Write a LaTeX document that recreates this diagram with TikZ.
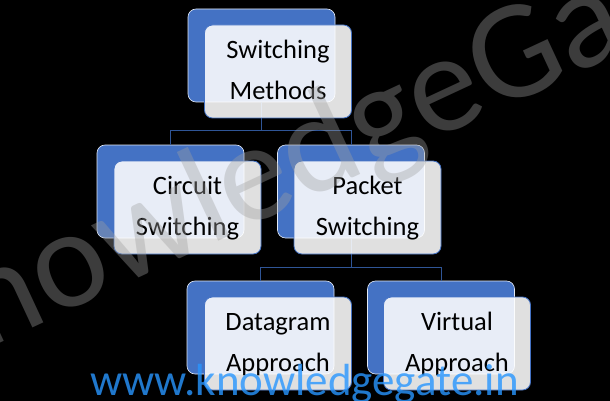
\documentclass[tikz,border=0pt]{standalone}
\usepackage{fontspec}
\setmainfont{Carlito}
\usetikzlibrary{calc}
\definecolor{bblue}{RGB}{68,114,196}
\definecolor{lnblue}{RGB}{47,85,151}
\definecolor{webblue}{RGB}{40,150,255}
\definecolor{wmgray}{RGB}{160,160,160}
\newcommand{\mystr}{\rule[-10pt]{0pt}{35pt}}
\begin{document}
\begin{tikzpicture}[x=1pt,y=-1pt,
  backbox/.style={draw=white!85!bblue, line width=0.6pt, fill=bblue, rounded corners=8pt,
    minimum width=147pt, minimum height=93pt, inner sep=0pt},
  frontbox/.style={draw=bblue, line width=0.8pt, fill=white, fill opacity=0.88, text opacity=1,
    rounded corners=8pt, minimum width=147pt, minimum height=93pt, inner sep=0pt,
    align=center, text=black, font=\fontsize{26.5}{41.5}\selectfont},
  conn/.style={draw=lnblue, line width=0.9pt},
  wmark/.style={text=wmgray, text opacity=0.375, font=\fontsize{141}{141}\selectfont, inner sep=0pt},
  web/.style={text=webblue, text opacity=0.8, font=\fontsize{45}{45}\selectfont, inner sep=0pt}]
\fill[black] (0,0) rectangle (610,401);
\useasboundingbox (0,0) rectangle (610,401);
% back boxes
\node[backbox] (tb) at (261.5,55.5) {};
\node[backbox] (cb) at (170.5,191.5) {};
\node[backbox] (pb) at (351,191.5) {};
\node[backbox] (db) at (260.5,327.5) {};
\node[backbox] (vb) at (441,327.5) {};
% connectors
\draw[conn] (tb.south) -- ++(0,28) -| (cb.north);
\draw[conn] (tb.south) -- ++(0,28) -| (pb.north);
\draw[conn] (pb.south) -- ++(0,29) -| (db.north);
\draw[conn] (pb.south) -- ++(0,29) -| (vb.north);
% front boxes
\node[frontbox] (tf) at ($(tb)+(16.5,16)$) {\mystr Switching\\\mystr Methods};
\node[frontbox] (cf) at ($(cb)+(17,16)$) {\mystr Circuit\\\mystr Switching};
\node[frontbox] (pf) at ($(pb)+(16.5,16)$) {\mystr Packet\\\mystr Switching};
\node[frontbox] (df) at ($(db)+(17.5,16)$) {\mystr Datagram\\\mystr Approach};
\node[frontbox] (vf) at ($(vb)+(16,16)$) {\mystr Virtual\\\mystr Approach};
% website
\node[web, anchor=base] (site) at (304.5,395) {www.knowledgegate.in};
% watermark
\node[wmark, anchor=base, rotate=25] (wm) at (332,188) {knowledgeGate};
\end{tikzpicture}
\end{document}
